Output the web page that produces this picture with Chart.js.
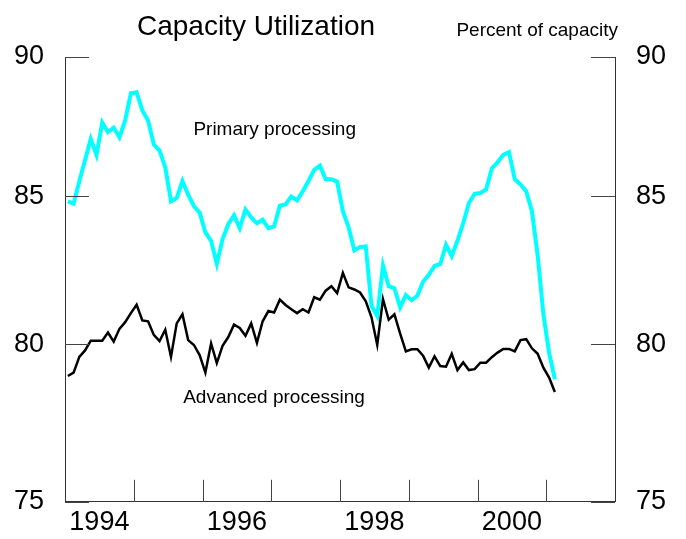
<!DOCTYPE html>
<html>
<head>
<meta charset="utf-8">
<script src="https://cdn.jsdelivr.net/npm/chart.js@4.4.0/dist/chart.umd.min.js"></script>
<style>
  html, body { margin: 0; padding: 0; background: #fff; }
  #wrap { width: 686px; height: 539px; }
</style>
</head>
<body>
<div id="wrap"><canvas id="capChart" width="686" height="539"></canvas></div>
<script>
// ---- data (monthly, Jan 1994 .. Feb 2001) ----
const startYear = 1994;
const xMin = 1994, xMax = 2002;
const yTicks = [75, 80, 85, 90];
const xTickLabels = ['1994', '1996', '1998', '2000'];

const primary = [
  84.83, 84.75, 85.53, 86.28, 87.03, 86.46, 87.61, 87.27, 87.43, 87.09,
  87.69, 88.67, 88.71, 88.05, 87.69, 86.83, 86.61, 86.02, 84.83, 84.95,
  85.54, 85.06, 84.66, 84.44, 83.76, 83.47, 82.68, 83.53, 84.04, 84.35,
  83.90, 84.55, 84.27, 84.07, 84.19, 83.90, 83.96, 84.68, 84.72, 85.00,
  84.86, 85.18, 85.54, 85.93, 86.08, 85.60, 85.60, 85.52, 84.49, 83.93,
  83.14, 83.26, 83.28, 81.27, 80.93, 82.63, 81.93, 81.86, 81.22, 81.63,
  81.46, 81.61, 82.08, 82.31, 82.61, 82.68, 83.33, 82.95, 83.47, 84.07,
  84.77, 85.09, 85.12, 85.24, 85.98, 86.20, 86.46, 86.56, 85.60, 85.42,
  85.18, 84.49, 82.97, 80.99, 79.72, 78.87
];

const advanced = [
  78.97, 79.08, 79.59, 79.80, 80.12, 80.12, 80.12, 80.39, 80.09, 80.51,
  80.73, 81.03, 81.31, 80.79, 80.76, 80.31, 80.11, 80.48, 79.59, 80.69,
  80.99, 80.14, 79.98, 79.65, 79.08, 80.03, 79.39, 79.95, 80.24, 80.65,
  80.54, 80.28, 80.69, 80.05, 80.76, 81.10, 81.05, 81.48, 81.30, 81.16,
  81.03, 81.16, 81.05, 81.56, 81.48, 81.78, 81.93, 81.70, 82.38, 81.89,
  81.82, 81.72, 81.42, 80.89, 79.98, 81.50, 80.81, 80.99, 80.35, 79.77,
  79.84, 79.84, 79.63, 79.24, 79.61, 79.29, 79.27, 79.69, 79.16, 79.41,
  79.16, 79.19, 79.40, 79.40, 79.58, 79.73, 79.85, 79.85, 79.77, 80.14,
  80.17, 79.87, 79.69, 79.24, 78.92, 78.45
];

// month i plotted at mid-month
const toPoints = arr => arr.map((v, i) => ({ x: startYear + (i + 0.5) / 12, y: v }));

const FONT = "'Liberation Sans', Arial, Helvetica, sans-serif";

// inward tick marks, title and series labels
const decorations = {
  id: 'decorations',
  afterDraw(chart) {
    const { ctx, chartArea: a, scales } = chart;
    ctx.save();
    ctx.strokeStyle = '#444';
    ctx.lineWidth = 1;
    yTicks.forEach(v => {
      const py = Math.round(scales.y.getPixelForValue(v)) + 0.5;
      ctx.beginPath();
      ctx.moveTo(a.left, py); ctx.lineTo(a.left + 24, py);
      ctx.moveTo(a.right, py); ctx.lineTo(a.right - 24, py);
      ctx.stroke();
    });
    for (let yr = xMin + 1; yr < xMax; yr++) {
      const px = Math.round(scales.x.getPixelForValue(yr)) + 0.5;
      ctx.beginPath();
      ctx.moveTo(px, a.bottom); ctx.lineTo(px, a.bottom - 22);
      ctx.stroke();
    }

    ctx.fillStyle = '#000';
    ctx.textBaseline = 'alphabetic';
    ctx.textAlign = 'center';
    ctx.font = '28px ' + FONT;
    ctx.fillText('Capacity Utilization', 256, 35);
    ctx.textAlign = 'right';
    ctx.font = '19px ' + FONT;
    ctx.fillText('Percent of capacity', 618, 36);

    ctx.textAlign = 'center';
    ctx.textBaseline = 'middle';
    ctx.fillText('Primary processing', scales.x.getPixelForValue(1997.05), scales.y.getPixelForValue(87.36));
    ctx.fillText('Advanced processing', scales.x.getPixelForValue(1997.04), scales.y.getPixelForValue(78.27));
    ctx.restore();
  }
};

const logAxis = (position, width) => ({
  type: 'logarithmic',
  position: position,
  min: 75,
  max: 90,
  afterBuildTicks: s => { s.ticks = yTicks.map(v => ({ value: v })); },
  afterFit: s => { s.width = width; },
  grid: { display: false, drawTicks: false },
  border: { display: true, color: '#333', width: 1 },
  ticks: {
    color: '#000',
    padding: 21,
    font: { family: FONT, size: 27 },
    callback: v => String(v)
  }
});

const ctx = document.getElementById('capChart').getContext('2d');
const capChart = new Chart(ctx, {
  type: 'line',
  data: {
    datasets: [
      {
        label: 'Advanced processing',
        data: toPoints(advanced),
        borderColor: '#000000',
        borderWidth: 2.5,
        pointRadius: 0,
        tension: 0,
        fill: false
      },
      {
        label: 'Primary processing',
        data: toPoints(primary),
        borderColor: '#00ffff',
        borderWidth: 4,
        pointRadius: 0,
        tension: 0,
        fill: false
      }
    ]
  },
  options: {
    responsive: false,
    animation: false,
    devicePixelRatio: 1,
    layout: { padding: { top: 57, left: 0, right: 0, bottom: 0 } },
    plugins: { legend: { display: false }, tooltip: { enabled: false } },
    scales: {
      x: {
        type: 'linear',
        min: xMin,
        max: xMax,
        afterBuildTicks: s => { s.ticks = xTickLabels.map(t => ({ value: Number(t) + 0.5 })); },
        afterFit: s => { s.height = 37; },
        grid: { display: false, drawTicks: false },
        border: { display: true, color: '#333', width: 1 },
        ticks: {
          color: '#000',
          padding: 5,
          maxRotation: 0,
          autoSkip: false,
          font: { family: FONT, size: 27 },
          callback: v => String(Math.floor(v))
        }
      },
      y: logAxis('left', 65),
      y2: logAxis('right', 71)
    }
  },
  plugins: [decorations]
});
</script>
</body>
</html>
